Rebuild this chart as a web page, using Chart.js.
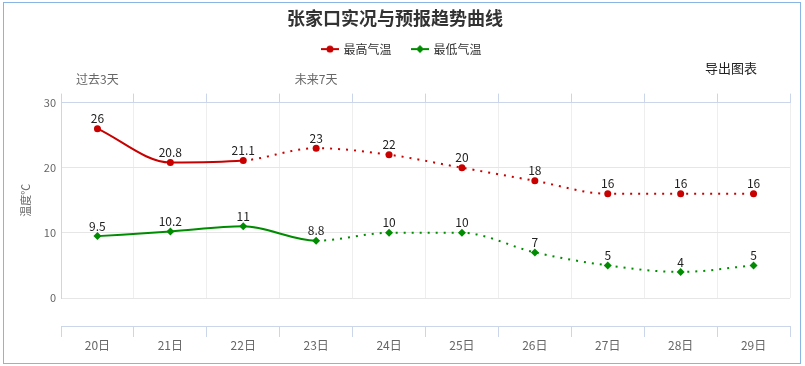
<!DOCTYPE html>
<html>
<head>
<meta charset="utf-8">
<title>张家口实况与预报趋势曲线</title>
<script src="https://cdn.jsdelivr.net/npm/chart.js@4"></script>
<style>
    body { margin: 0; background: #fff; }
    #box { position: relative; width: 805px; height: 366px; }
    #frame { position: absolute; left: 3px; top: 2px; width: 796px; height: 360px; border: 1px solid #8ab4e3; }
    #exportBtn { position: absolute; left: 705px; top: 60px; font: 13px 'Noto Sans CJK SC', sans-serif; line-height: 16px; color: #222; }
    canvas { position: absolute; left: 0; top: 0; }
</style>
</head>
<body>
<div id="box">
    <div id="frame"></div>
    <canvas id="chartCanvas" width="805" height="366"></canvas>
    <div id="exportBtn">导出图表</div>
</div>
<script>
// datos del grafico
const days = ["20日", "21日", "22日", "23日", "24日", "25日", "26日", "27日", "28日", "29日"];
const periodLabels = ["过去3天", "", "", "未来7天", "", "", "", "", "", ""];
const highTemps = [26, 20.8, 21.1, 23, 22, 20, 18, 16, 16, 16];
const lowTemps = [9.5, 10.2, 11, 8.8, 10, 10, 7, 5, 4, 5];
const highSolidUntil = 2; // ultimo punto con linea continua
const lowSolidUntil = 3;
const yTicks = [0, 10, 20, 30];
const xAxisAt = -4.3; // el eje X va un poco por debajo de 0

const FONT = "'Noto Sans CJK SC', sans-serif";
const AXIS_BLUE = "#ccd6eb";

document.addEventListener("DOMContentLoaded", function () {
    Chart.defaults.font.family = FONT;

    function legendIcon(color, diamond) {
        const c = document.createElement("canvas");
        c.width = 18;
        c.height = 10;
        const g = c.getContext("2d");
        g.strokeStyle = color;
        g.fillStyle = color;
        g.lineWidth = 2;
        g.beginPath();
        g.moveTo(0, 5);
        g.lineTo(18, 5);
        g.stroke();
        g.beginPath();
        if (diamond) {
            g.moveTo(9, 1); g.lineTo(13, 5); g.lineTo(9, 9); g.lineTo(5, 5); g.closePath();
        } else {
            g.arc(9, 5, 3.5, 0, Math.PI * 2);
        }
        g.fill();
        return c;
    }
    const legendIcons = [legendIcon("#c80000", false), legendIcon("#008c00", true)];

    // numeros encima de cada punto
    const valueLabels = {
        id: "valueLabels",
        afterDatasetsDraw(chart) {
            const ctx = chart.ctx;
            ctx.save();
            ctx.font = "12px " + FONT;
            ctx.fillStyle = "#222";
            ctx.textAlign = "center";
            ctx.textBaseline = "bottom";
            chart.data.datasets.forEach((ds, i) => {
                chart.getDatasetMeta(i).data.forEach((pt, j) => {
                    ctx.fillText(ds.data[j], pt.x, pt.y - 4);
                });
            });
            ctx.restore();
        }
    };

    // la leyenda de Chart.js queda corrida a la izquierda por el padding final
    const legendShift = {
        id: "legendShift",
        afterLayout(chart) {
            chart.legend.left += 7;
            chart.legend.right += 7;
        }
    };

    const chartCanvas = document.getElementById("chartCanvas").getContext("2d");
    new Chart(chartCanvas, {
        type: "line",
        data: {
            labels: days,
            datasets: [{
                label: "最高气温",
                data: highTemps,
                borderColor: "#c80000",
                backgroundColor: "#c80000",
                borderWidth: 2,
                pointStyle: "circle",
                pointRadius: 3.5,
                pointBorderWidth: 0,
                cubicInterpolationMode: "monotone",
                segment: {
                    borderDash: c => c.p0DataIndex >= highSolidUntil ? [2, 6] : undefined
                }
            }, {
                label: "最低气温",
                data: lowTemps,
                borderColor: "#008c00",
                backgroundColor: "#008c00",
                borderWidth: 2,
                pointStyle: "rectRot",
                pointRadius: 4,
                pointBorderWidth: 0,
                cubicInterpolationMode: "monotone",
                segment: {
                    borderDash: c => c.p0DataIndex >= lowSolidUntil ? [2, 6] : undefined
                }
            }]
        },
        options: {
            responsive: false,
            animation: false,
            devicePixelRatio: 1,
            layout: { padding: { left: 0, right: 15, top: 0, bottom: 68 } },
            plugins: {
                title: {
                    display: true,
                    text: "张家口实况与预报趋势曲线",
                    color: "#333",
                    font: { size: 18, weight: "bold" },
                    padding: { top: 7, bottom: -6.5 }
                },
                legend: {
                    display: true,
                    labels: {
                        color: "#333",
                        font: { size: 12 },
                        usePointStyle: true,
                        pointStyleWidth: 15,
                        padding: 21,
                        generateLabels(chart) {
                            const items = Chart.defaults.plugins.legend.labels.generateLabels(chart);
                            items.forEach((it, i) => { it.pointStyle = legendIcons[i]; });
                            return items;
                        }
                    }
                },
                tooltip: { enabled: false }
            },
            scales: {
                x: {
                    position: { y: xAxisAt },
                    offset: true,
                    grid: { offset: true, color: "#eeeeee", tickColor: AXIS_BLUE, tickLength: 10 },
                    border: { color: AXIS_BLUE },
                    ticks: { color: "#666", font: { size: 12 }, padding: 2 }
                },
                x2: {
                    type: "category",
                    labels: periodLabels,
                    position: "top",
                    offset: true,
                    grid: { offset: true, drawOnChartArea: false, tickColor: AXIS_BLUE, tickLength: 9 },
                    border: { color: AXIS_BLUE },
                    ticks: { color: "#666", font: { size: 12 }, padding: 7, autoSkip: false, maxRotation: 0 },
                    afterFit: s => { s.height = 37.5; }
                },
                y: {
                    min: 0,
                    max: 30,
                    afterBuildTicks: s => { s.ticks = yTicks.map(v => ({ value: v })); },
                    grid: { color: "#e6e6e6", drawTicks: false },
                    border: { color: AXIS_BLUE },
                    ticks: { color: "#666", font: { size: 11 }, padding: 5 },
                    title: { display: true, text: "温度℃", color: "#666", font: { size: 11 }, padding: { top: 19, bottom: 0 } },
                    afterFit: s => { s.width = 61; }
                }
            }
        },
        plugins: [valueLabels, legendShift]
    });
});
</script>
</body>
</html>
